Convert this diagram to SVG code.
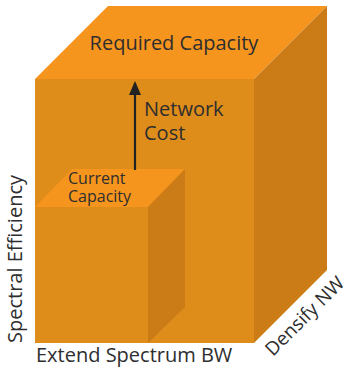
<svg xmlns="http://www.w3.org/2000/svg" width="350" height="369" viewBox="0 0 350 369">
<defs>
<style>
.top{fill:#F6951E}
.front{fill:#DE8C1A}
.side{fill:#CB7C17}
text{font-family:"Open Sans","Noto Sans",sans-serif;fill:#2e2e2e}
.lbl{font-size:20px}
.sm{font-size:16px}
</style>
<marker id="ah" markerWidth="14" markerHeight="12" refX="12" refY="6" orient="auto" markerUnits="userSpaceOnUse" viewBox="0 0 14 12">
<path d="M0,0 L14,6 L0,12 Z" fill="#222"/>
</marker>
</defs>
<g id="big-cube">
<polygon class="top" points="35,79 108,6 327,6 254,79"/>
<polygon class="side" points="254,79 327,6 327,270 254,343"/>
<rect class="front" x="35" y="79" width="219" height="264"/>
<text class="lbl" x="174" y="50" text-anchor="middle">Required Capacity</text>
</g>
<g id="small-cube">
<polygon class="top" points="35,207 72,169 185,169 148,207"/>
<polygon class="side" points="148,207 185,169 185,307 148,343"/>
<rect class="front" x="35" y="207" width="113" height="136"/>
<text class="sm" x="68" y="184">Current</text>
<text class="sm" x="68" y="202">Capacity</text>
</g>
<g id="connectors">
<line x1="135" y1="170" x2="135" y2="83" stroke="#222" stroke-width="2.2" marker-end="url(#ah)"/>
</g>
<g id="network-cost">
<text class="lbl" x="144" y="116">Network</text>
<text class="lbl" x="144" y="140">Cost</text>
</g>
<g id="axes">
<text class="lbl" transform="translate(22,343) rotate(-90)">Spectral Efficiency</text>
<text class="lbl" x="36" y="362">Extend Spectrum BW</text>
<text class="lbl" style="font-size:19px" transform="translate(273,357) rotate(-45)">Densify NW</text>
</g>
</svg>
